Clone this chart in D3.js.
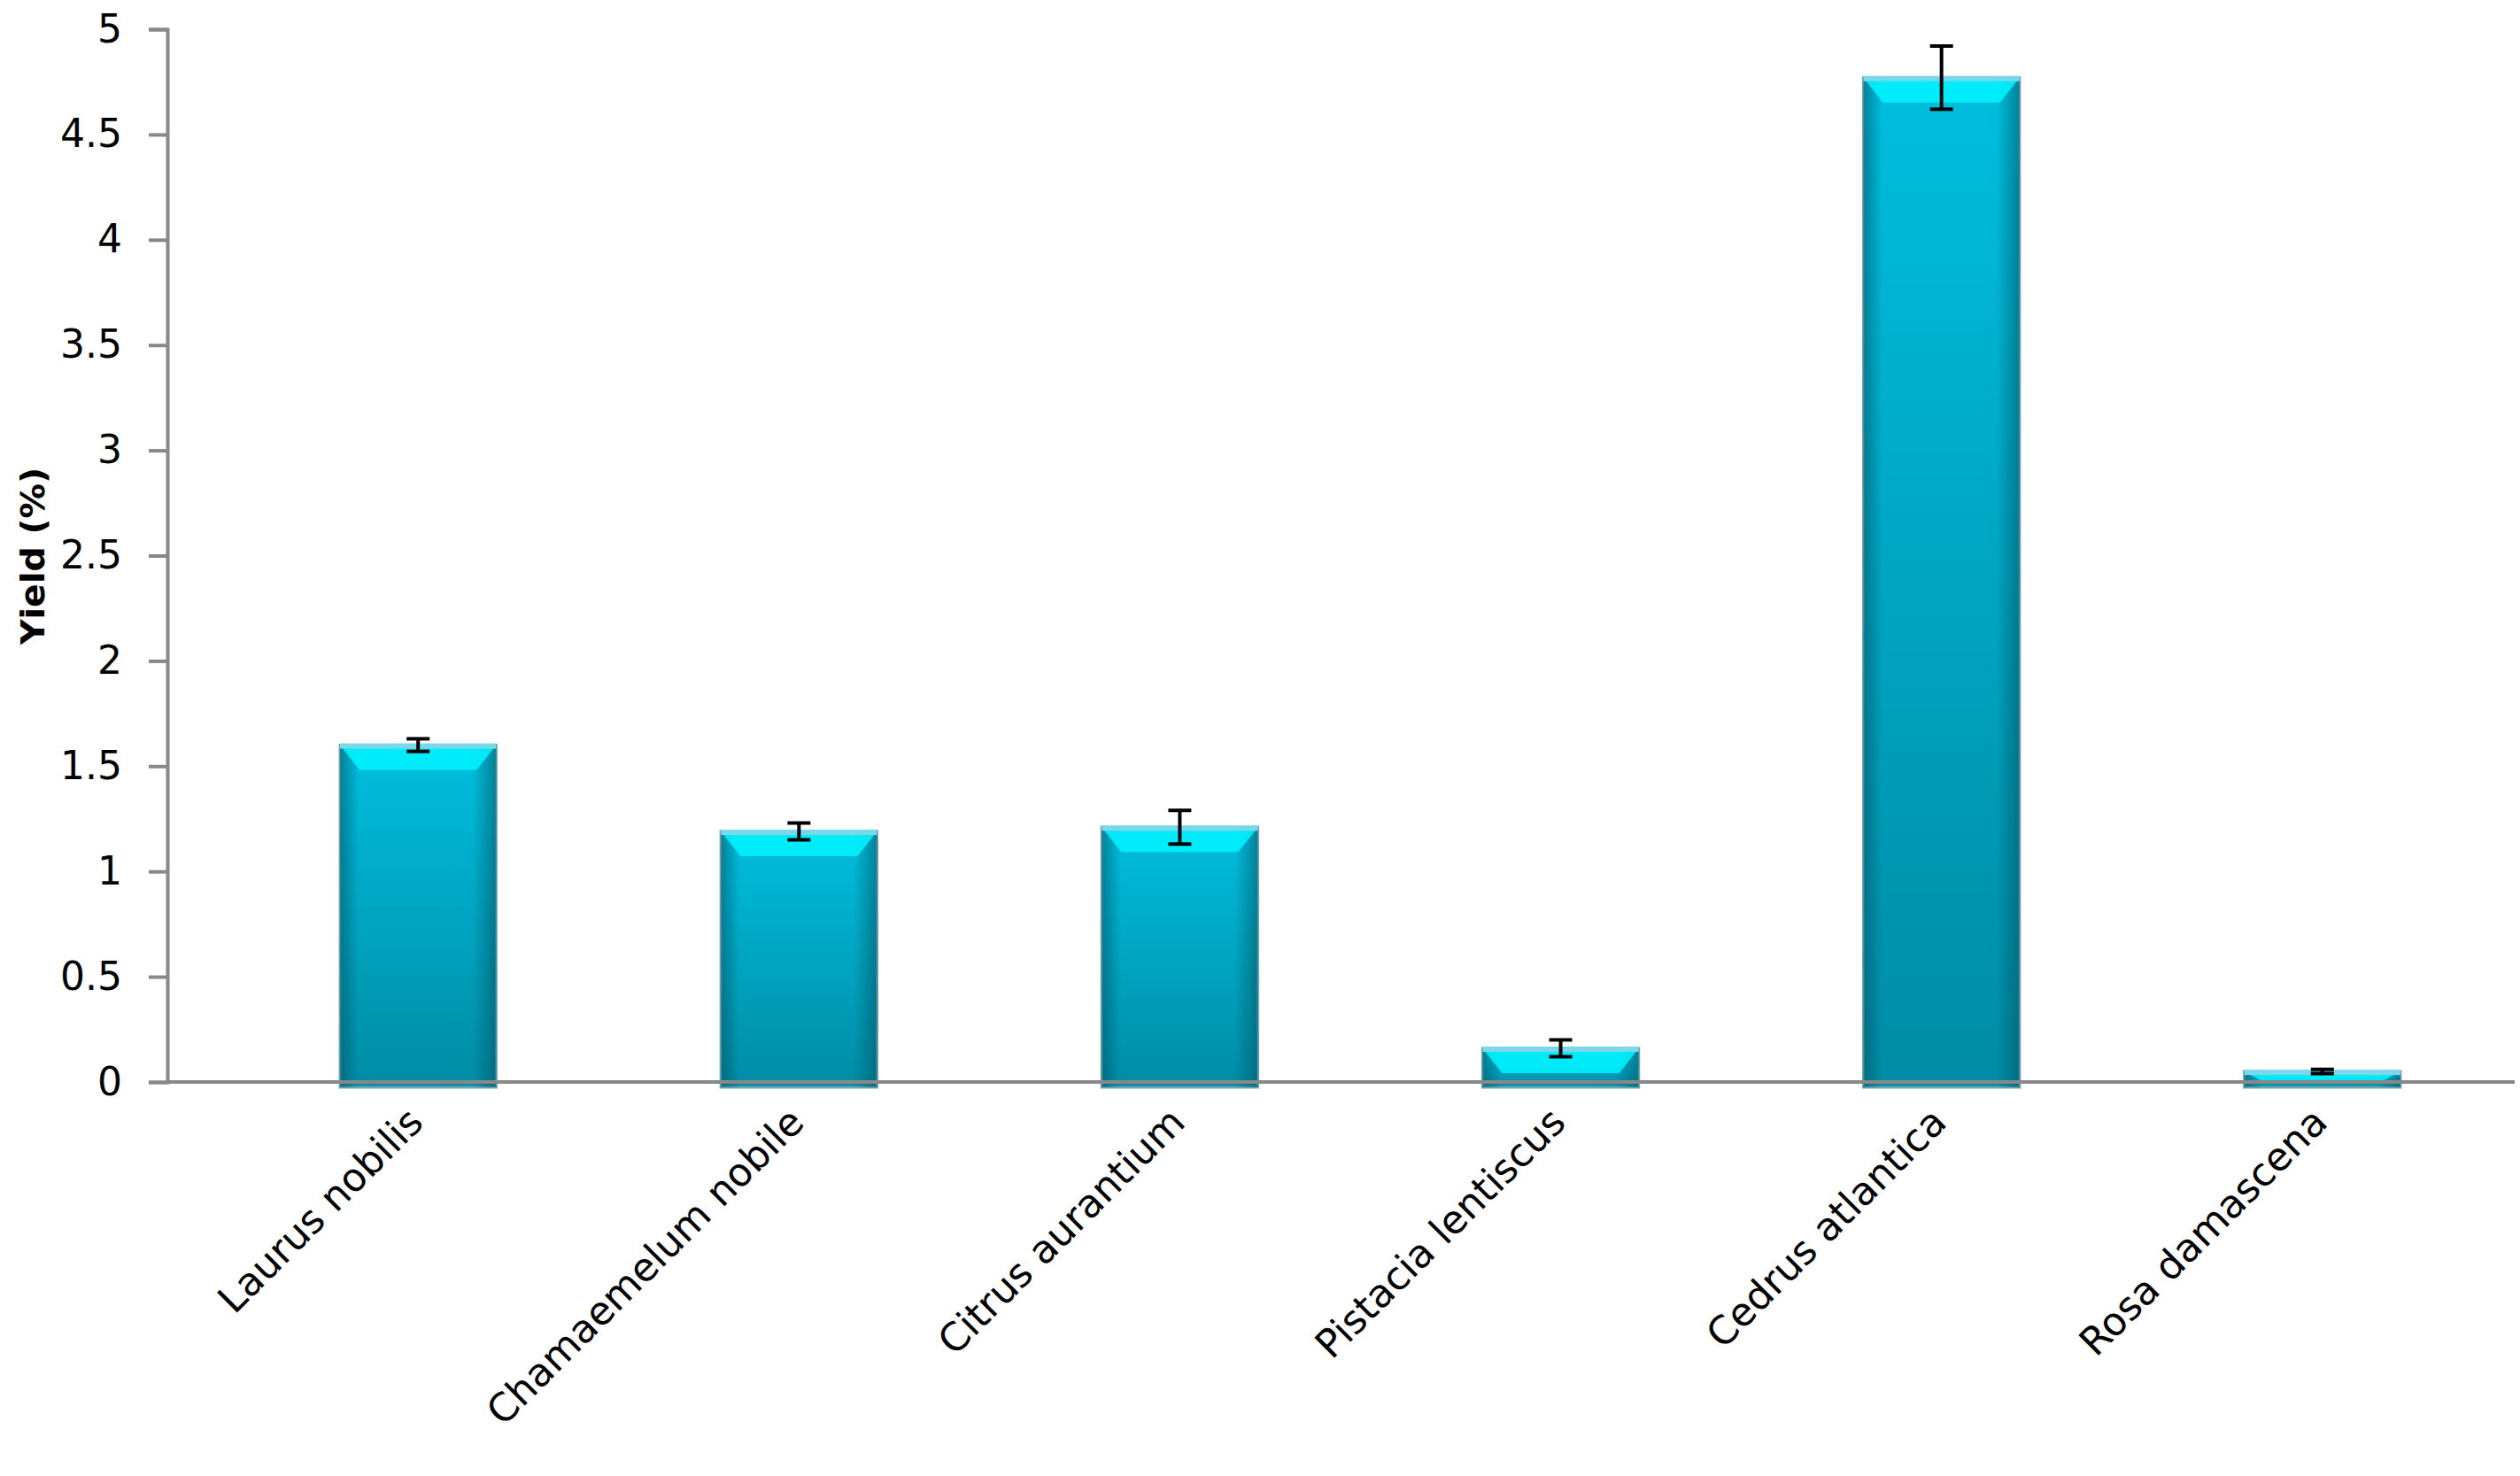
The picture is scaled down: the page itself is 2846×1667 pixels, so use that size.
<!DOCTYPE html>
<html>
<head>
<meta charset="utf-8">
<script src="https://cdn.jsdelivr.net/npm/d3@7"></script>
<style>
  body { margin: 0; background: #fff; }
  text { font-family: "DejaVu Sans", Verdana, sans-serif; }
</style>
</head>
<body>
<svg class="chart" width="2846" height="1667"></svg>
<script>
'use strict';

var species = ["Laurus nobilis", "Chamaemelum nobile", "Citrus aurantium", "Pistacia lentiscus", "Cedrus atlantica", "Rosa damascena"];
var yields = [1.6, 1.19, 1.21, 0.16, 4.77, 0.05];
var errors = [0.03, 0.04, 0.08, 0.04, 0.15, 0.01];
var yTicks = [0, 0.5, 1, 1.5, 2, 2.5, 3, 3.5, 4, 4.5, 5];

var svg = d3.select('.chart');

var x = d3.scaleBand().domain(species).range([255, 2840]).paddingInner(0.59).paddingOuter(0.3);
var y = d3.scaleLinear().domain([0, 5]).range([1222, 33]);

// gradients
var defs = svg.append("defs");
var vg = defs.append("linearGradient").attr("id", "vgrad").attr("x1", 0).attr("y1", 0).attr("x2", 0).attr("y2", 1);
vg.append("stop").attr("offset", "0%").attr("stop-color", "#00c4e4");
vg.append("stop").attr("offset", "100%").attr("stop-color", "#008fa8");
var hg = defs.append("linearGradient").attr("id", "hgrad").attr("x1", 0).attr("y1", 0).attr("x2", 1).attr("y2", 0);
hg.append("stop").attr("offset", "0%").attr("stop-color", "#004f60").attr("stop-opacity", 0.55);
hg.append("stop").attr("offset", "12%").attr("stop-color", "#004f60").attr("stop-opacity", 0.05);
hg.append("stop").attr("offset", "85%").attr("stop-color", "#004f60").attr("stop-opacity", 0.05);
hg.append("stop").attr("offset", "100%").attr("stop-color", "#004f60").attr("stop-opacity", 0.55);

var bars = svg.append("g").selectAll("g").data(species).enter().append("g");

bars.append("rect")
    .attr("x", function (d) { return x(d); })
    .attr("y", function (d, i) { return y(yields[i]); })
    .attr("width", x.bandwidth())
    .attr("height", function (d, i) { return y(0) - y(yields[i]) + 6; })
    .attr("fill", "url(#vgrad)")
    .attr("stroke", "#6aa8b8").attr("stroke-width", 3);

bars.append("rect")
    .attr("x", function (d) { return x(d); })
    .attr("y", function (d, i) { return y(yields[i]); })
    .attr("width", x.bandwidth())
    .attr("height", function (d, i) { return y(0) - y(yields[i]) + 6; })
    .attr("fill", "url(#hgrad)");

// top highlight
bars.append("path")
    .attr("d", function (d, i) {
        var x0 = x(d), x1 = x(d) + x.bandwidth(), t = y(yields[i]);
        var h = Math.min(28, y(0) - t);
        return "M" + x0 + "," + t + "L" + x1 + "," + t + "L" + (x1 - 22) + "," + (t + h) + "L" + (x0 + 22) + "," + (t + h) + "Z";
    })
    .attr("fill", "#00f4ff").attr("opacity", 0.85);
bars.append("rect")
    .attr("x", function (d) { return x(d); })
    .attr("y", function (d, i) { return y(yields[i]) - 2; })
    .attr("width", x.bandwidth()).attr("height", 6)
    .attr("fill", "#7ad8ea");

// error bars
var eb = svg.append("g").attr("stroke", "#000").attr("stroke-width", 4);
species.forEach(function (d, i) {
    var cx = x(d) + x.bandwidth() / 2;
    var top = y(yields[i] + errors[i]), bot = y(yields[i] - errors[i]);
    eb.append("line").attr("x1", cx).attr("x2", cx).attr("y1", top).attr("y2", bot);
    eb.append("line").attr("x1", cx - 13).attr("x2", cx + 13).attr("y1", top).attr("y2", top);
    eb.append("line").attr("x1", cx - 13).attr("x2", cx + 13).attr("y1", bot).attr("y2", bot);
});

// axes
var yAxis = svg.append("g").attr("transform", "translate(189,0)")
    .call(d3.axisLeft(y).tickValues(yTicks).tickSize(21).tickPadding(30).tickFormat(d3.format("")));
yAxis.select(".domain").attr("stroke", "#888").attr("stroke-width", 4);
yAxis.selectAll(".tick line").attr("stroke", "#888").attr("stroke-width", 4);
yAxis.selectAll(".tick text").attr("font-size", 44).attr("fill", "#000");

svg.append("line").attr("x1", 189).attr("x2", 2840).attr("y1", y(0)).attr("y2", y(0))
    .attr("stroke", "#888").attr("stroke-width", 4);

var xLabels = svg.append("g").selectAll("text").data(species).enter().append("text")
    .attr("transform", function (d) {
        return "translate(" + (x(d) + x.bandwidth() / 2 + 8) + "," + (y(0) + 48) + ") rotate(-45)";
    })
    .attr("text-anchor", "end")
    .attr("font-size", 44)
    .text(function (d) { return d; });

svg.append("text")
    .attr("transform", "translate(50,628) rotate(-90)")
    .attr("text-anchor", "middle")
    .attr("font-size", 38).attr("font-weight", "bold")
    .attr("textLength", 200).attr("lengthAdjust", "spacingAndGlyphs")
    .text("Yield (%)");
</script>
</body>
</html>
